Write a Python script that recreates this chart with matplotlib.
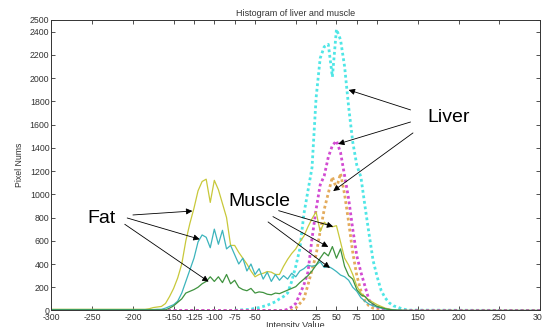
import matplotlib
matplotlib.use("Agg")
import matplotlib.pyplot as plt

plt.rcParams["font.family"] = ["Liberation Sans", "DejaVu Sans"]

# histogram bins (intensity values)
bins = [-300] + list(range(-190, 145, 5)) + [300]

# solid curves
yellow = [10,
          10, 10, 15, 25, 30, 35, 60, 120, 190, 280,
          400, 600, 750, 880, 1030, 1110, 1130, 930, 1120, 1040,
          920, 800, 560, 560, 500, 450, 400, 340, 290, 310,
          320, 335, 330, 310, 310, 380, 440, 490, 530, 590,
          640, 720, 790, 850, 680, 760, 730, 720, 730, 590,
          450, 390, 310, 210, 150, 120, 90, 70, 50, 35,
          20, 12, 6, 3, 2, 1, 0,
          0]
teal = [8,
        8, 8, 8, 8, 10, 10, 20, 35, 50, 80,
        150, 250, 350, 450, 590, 650, 630, 540, 700, 570,
        690, 530, 560, 480, 400, 450, 340, 400, 310, 360,
        270, 330, 250, 310, 260, 300, 270, 320, 290, 340,
        360, 390, 380, 390, 420, 370, 380, 360, 335, 305,
        290, 260, 200, 165, 110, 80, 55, 40, 30, 20,
        12, 8, 5, 3, 2, 1, 0,
        0]
green = [5,
         5, 5, 5, 5, 5, 5, 5, 20, 40, 70,
         100, 150, 165, 180, 200, 230, 250, 290, 250, 290,
         240, 310, 230, 260, 200, 180, 170, 190, 150, 160,
         155, 140, 135, 150, 145, 160, 175, 190, 205, 240,
         270, 300, 340, 390, 450, 500, 470, 550, 450, 530,
         380, 300, 270, 180, 135, 120, 80, 55, 35, 25,
         15, 8, 4, 2, 1, 0, 0,
         0]

# dotted curves (liver)
liver_cyan = [0,
              0, 0, 0, 0, 0, 0, 0, 0, 0, 0,
              0, 0, 0, 0, 0, 0, 0, 0, 0, 0,
              0, 0, 0, 2, 4, 6, 8, 10, 20, 25,
              35, 45, 60, 75, 100, 120, 150, 250, 380, 530,
              830, 1030, 1230, 1830, 2170, 2270, 2290, 2010, 2420, 2330,
              2100, 1750, 1450, 1250, 1150, 900, 660, 430, 290, 170,
              107, 65, 40, 30, 15, 8, 3,
              0]
liver_magenta = [0,
                 0, 0, 0, 0, 0, 0, 0, 0, 0, 0,
                 0, 0, 0, 0, 0, 0, 0, 0, 0, 0,
                 0, 0, 0, 0, 0, 0, 0, 0, 0, 0,
                 0, 0, 0, 0, 0, 0, 10, 30, 60, 140,
                 220, 330, 620, 870, 1080, 1160, 1320, 1420, 1460, 1360,
                 1160, 960, 700, 470, 330, 210, 90, 50, 30, 20,
                 10, 5, 0, 0, 0, 0, 0,
                 0]
liver_orange = [0,
                0, 0, 0, 0, 0, 0, 0, 0, 0, 0,
                0, 0, 0, 0, 0, 0, 0, 0, 0, 0,
                0, 0, 0, 0, 0, 0, 0, 0, 0, 0,
                0, 0, 0, 0, 0, 0, 0, 0, 20, 60,
                100, 220, 350, 480, 680, 870, 1010, 1150, 1050, 1180,
                1000, 760, 500, 300, 170, 80, 40, 20, 10, 5,
                0, 0, 0, 0, 0, 0, 0,
                0]

xticks = [-300, -250, -200, -150, -125, -100, -75, -50, 0, 25, 50, 75, 100, 150, 200, 250, 300]
xticklabels = ["-300", "-250", "-200", "-150", "-125", "-100", "-75", "-50", "", "25", "50", "75", "100", "150", "200", "250", "300"]
yticks = [0, 200, 400, 600, 800, 1000, 1200, 1400, 1600, 1800, 2000, 2200, 2400, 2500]

fig = plt.figure(figsize=(5.42, 3.27), dpi=100)
ax = fig.add_axes([0.095, 0.0505, 0.9013, 0.8884])

dot = (0, (1, 1))
ax.plot(bins, liver_cyan, color="#4fe6e6", lw=2.0, ls=dot)
ax.plot(bins, liver_orange, color="#e3ab5c", lw=2.0, ls=dot)
ax.plot(bins, liver_magenta, color="#d24bd2", lw=2.0, ls=dot)
ax.plot(bins, yellow, color="#c8c83a", lw=0.9)
ax.plot(bins, teal, color="#3cb4bc", lw=0.9)
ax.plot(bins, green, color="#3f933f", lw=0.9)

ax.set_xlim(-300, 300)
ax.set_ylim(0, 2500)
ax.set_xticks(xticks)
ax.set_xticklabels(xticklabels)
ax.set_yticks(yticks)
ax.tick_params(direction="in", top=True, right=True, length=3, width=0.6,
               labelsize=6.3, pad=1.5, colors="#333333")
for s in ax.spines.values():
    s.set_linewidth(0.7)
    s.set_color("#333333")

ax.set_title("Histogram of liver and muscle", fontsize=6.5, pad=3, color="#333333")
ax.set_xlabel("Intensity Value", fontsize=6.5, labelpad=-0.6, color="#333333")
ax.set_ylabel("Pixel Nums", fontsize=6.3, labelpad=4, color="#333333")

# labels with arrows
arrow = dict(arrowstyle="-|>", color="black", lw=0.6, mutation_scale=9, shrinkA=0, shrinkB=0)

ax.text(-256, 790, "Fat", fontsize=14, va="center", ha="left")
fat_arrows = [((-200, 822), (-127, 856)), ((-207, 796), (-118, 613)), ((-210, 742), (-107, 248))]
for start, end in fat_arrows:
    ax.annotate("", xy=end, xytext=start, arrowprops=arrow)

ax.text(-83, 934, "Muscle", fontsize=14, va="center", ha="left")
muscle_arrows = [((-21, 859), (46, 722)), ((-28, 808), (40, 547)), ((-34, 762), (42, 366))]
for start, end in muscle_arrows:
    ax.annotate("", xy=end, xytext=start, arrowprops=arrow)

ax.text(162, 1665, "Liver", fontsize=14, va="center", ha="left")
liver_arrows = [((141, 1726), (65, 1898)), ((141, 1622), (52, 1433)), ((144, 1528), (46, 1028))]
for start, end in liver_arrows:
    ax.annotate("", xy=end, xytext=start, arrowprops=arrow)

fig.savefig("out.png", dpi=100)
